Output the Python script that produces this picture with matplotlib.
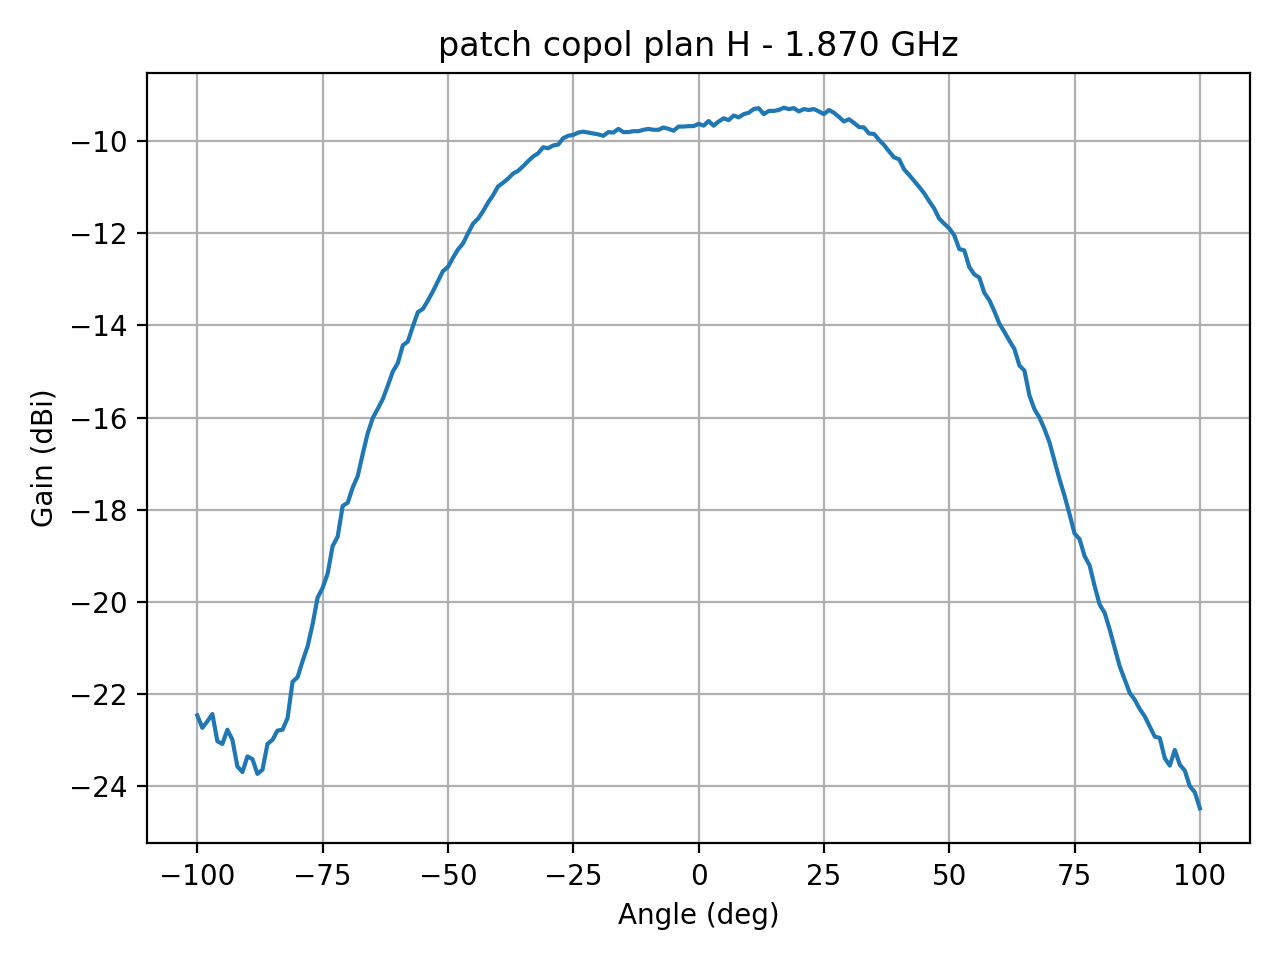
import numpy as np
import matplotlib
matplotlib.use("Agg")
import matplotlib.pyplot as plt

# Angles (deg), 1 degree steps
angle = np.arange(-100, 101, 1)

gain_left = [  # -100 .. -39
    -22.47, -22.74, -22.60, -22.44, -23.03, -23.09, -22.78, -23.00, -23.58, -23.70,
    -23.36, -23.42, -23.74, -23.65, -23.09, -23.00, -22.80, -22.78, -22.53, -21.74,
    -21.64, -21.29, -20.97, -20.49, -19.91, -19.70, -19.39, -18.79, -18.59, -17.92,
    -17.85, -17.52, -17.27, -16.79, -16.34, -16.01, -15.81, -15.60, -15.31, -15.00,
    -14.82, -14.43, -14.35, -14.02, -13.71, -13.64, -13.46, -13.26, -13.04, -12.82,
    -12.73, -12.53, -12.35, -12.22, -12.00, -11.79, -11.68, -11.52, -11.33, -11.17,
    -10.98, -10.90,
]

gain_mid = [  # -38 .. 27
    -10.81, -10.70, -10.64, -10.54, -10.43, -10.33, -10.26, -10.13, -10.15, -10.09,
    -10.07, -9.93, -9.88, -9.86, -9.81, -9.79, -9.81, -9.83, -9.85, -9.88,
    -9.80, -9.81, -9.73, -9.80, -9.80, -9.78, -9.78, -9.75, -9.73, -9.75,
    -9.75, -9.70, -9.73, -9.77, -9.68, -9.68, -9.67, -9.67, -9.62, -9.66,
    -9.56, -9.66, -9.57, -9.50, -9.54, -9.44, -9.48, -9.41, -9.38, -9.30,
    -9.28, -9.41, -9.34, -9.34, -9.32, -9.27, -9.30, -9.28, -9.35, -9.30,
    -9.32, -9.30, -9.35, -9.41, -9.32, -9.38,
]

gain_right = [  # 28 .. 100
    -9.47, -9.57, -9.52, -9.60, -9.69, -9.70, -9.83, -9.84, -9.97, -10.08,
    -10.22, -10.35, -10.39, -10.61, -10.73, -10.86, -10.99, -11.13, -11.30, -11.46,
    -11.68, -11.79, -11.89, -12.04, -12.34, -12.37, -12.73, -12.89, -12.96, -13.29,
    -13.45, -13.69, -13.96, -14.14, -14.33, -14.51, -14.87, -14.98, -15.52, -15.82,
    -16.00, -16.25, -16.54, -16.94, -17.34, -17.70, -18.10, -18.52, -18.64, -19.01,
    -19.21, -19.66, -20.06, -20.24, -20.60, -21.00, -21.40, -21.69, -21.98, -22.13,
    -22.33, -22.49, -22.71, -22.93, -22.96, -23.40, -23.56, -23.22, -23.54, -23.67,
    -24.01, -24.14, -24.49,
]

gain = np.array(gain_left + gain_mid + gain_right)

fig, ax = plt.subplots(figsize=(6.4, 4.8), dpi=200)

ax.plot(angle, gain)

ax.set_title("patch copol plan H - 1.870 GHz")
ax.set_xlabel("Angle (deg)")
ax.set_ylabel("Gain (dBi)")
ax.grid(True)

plt.tight_layout()
plt.savefig("out.png", dpi=200)
